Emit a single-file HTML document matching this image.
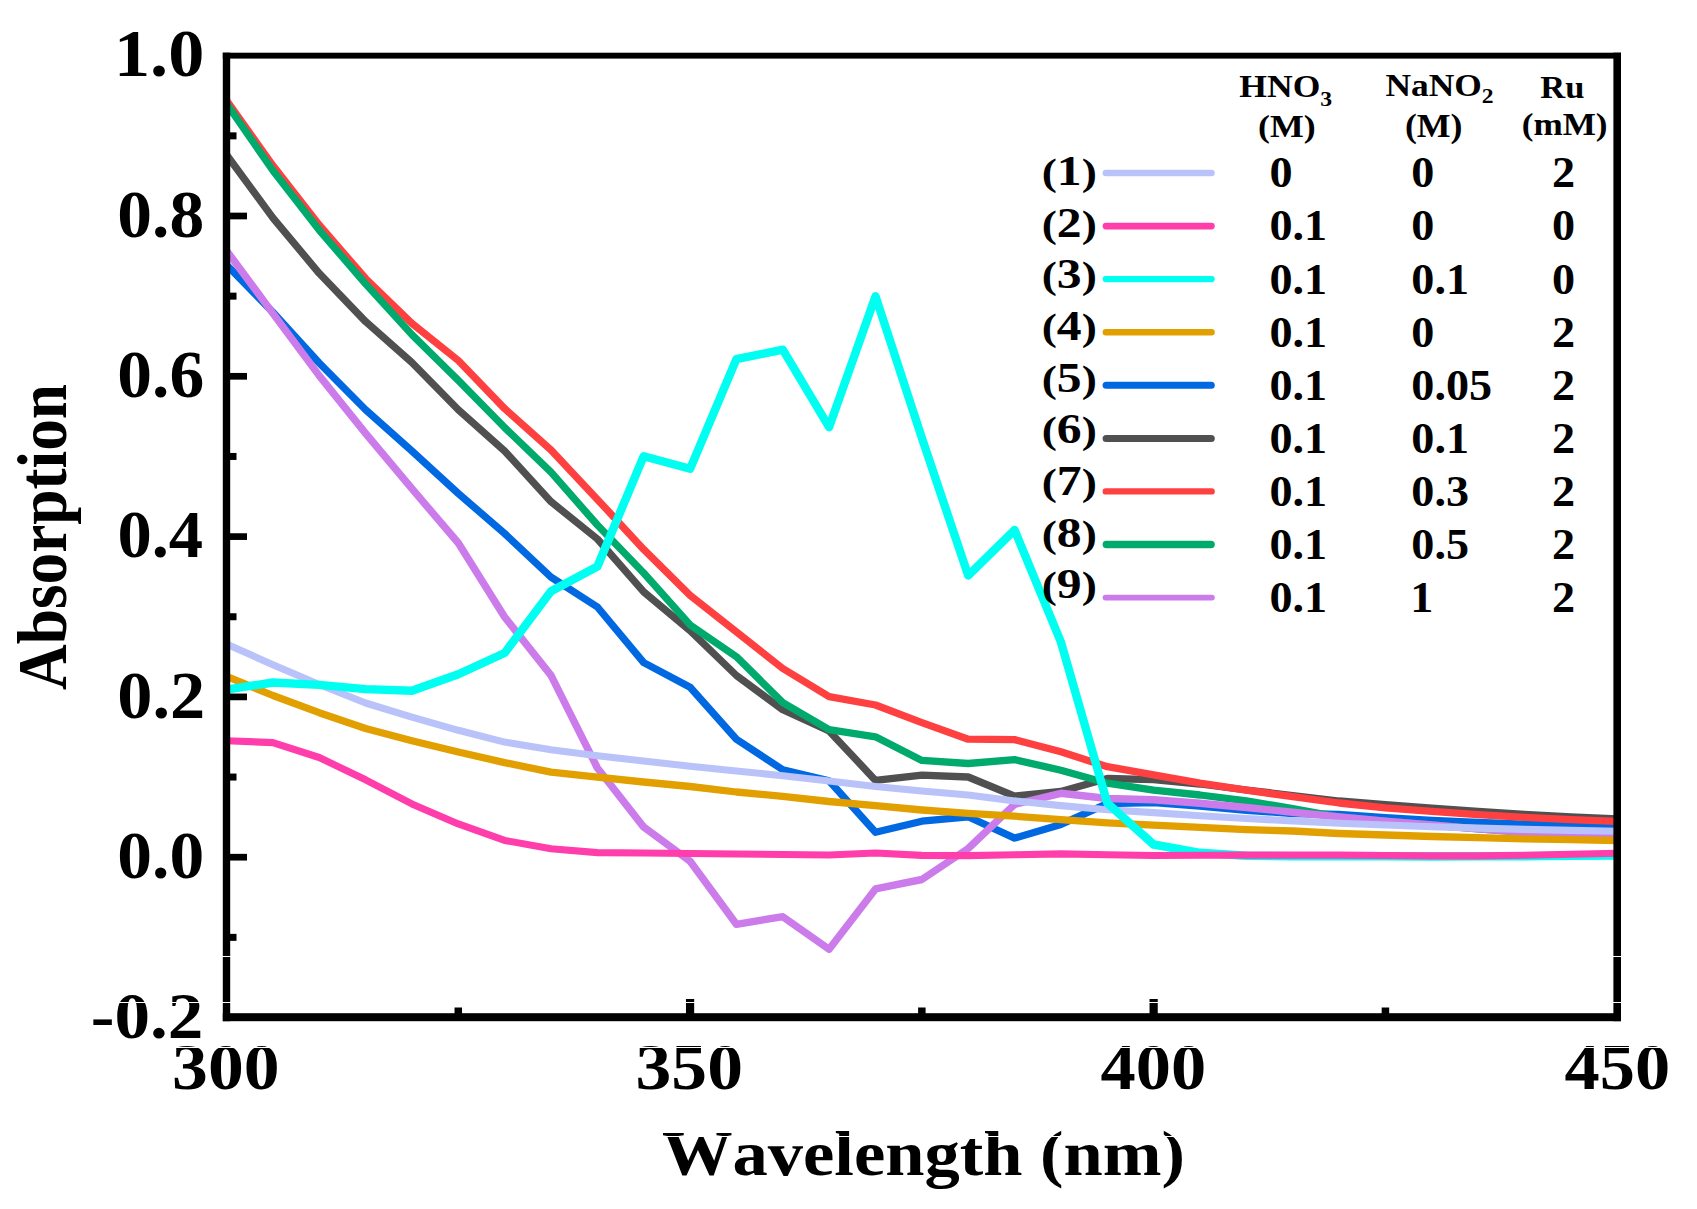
<!DOCTYPE html>
<html lang="en"><head><meta charset="utf-8"><title>Absorption spectra</title>
<style>html,body{margin:0;padding:0;background:#fff}body{width:1697px;height:1209px;overflow:hidden}</style></head>
<body>
<svg width="1697" height="1209" viewBox="0 0 1697 1209" style="display:block">
<rect width="1697" height="1209" fill="#fff"/>
<clipPath id="c"><rect x="226" y="55" width="1391.5" height="962"/></clipPath>
<g clip-path="url(#c)" fill="none" stroke-linejoin="round" stroke-linecap="butt">
<path d="M226.5 264.9 L272.9 312.2 L319.2 363.0 L365.6 409.8 L411.9 451.0 L458.3 493.5 L504.6 533.5 L551.0 577.1 L597.4 607.0 L643.7 662.6 L690.1 687.3 L736.4 739.2 L782.8 769.8 L829.1 780.8 L875.5 832.3 L921.9 821.2 L968.2 816.8 L1014.6 838.1 L1060.9 824.4 L1107.3 803.7 L1153.6 802.7 L1200.0 806.0 L1246.4 810.3 L1292.7 813.5 L1339.1 814.3 L1385.4 817.7 L1431.8 820.5 L1478.1 822.5 L1524.5 824.1 L1570.9 825.4 L1617.2 826.4" stroke="#0068e1" stroke-width="7.3"/>
<path d="M226.5 154.7 L272.9 217.9 L319.2 273.3 L365.6 321.6 L411.9 362.5 L458.3 409.8 L504.6 451.0 L551.0 501.7 L597.4 539.0 L643.7 591.9 L690.1 630.7 L736.4 675.5 L782.8 709.7 L829.1 730.9 L875.5 780.4 L921.9 775.2 L968.2 777.0 L1014.6 796.1 L1060.9 791.4 L1107.3 778.5 L1153.6 779.6 L1200.0 784.0 L1246.4 790.0 L1292.7 795.5 L1339.1 801.0 L1385.4 804.7 L1431.8 808.1 L1478.1 811.4 L1524.5 814.3 L1570.9 817.0 L1617.2 818.8" stroke="#505050" stroke-width="7.3"/>
<path d="M226.5 100.3 L272.9 165.5 L319.2 225.0 L365.6 278.5 L411.9 323.3 L458.3 360.5 L504.6 408.6 L551.0 449.9 L597.4 499.4 L643.7 549.4 L690.1 595.4 L736.4 631.9 L782.8 668.5 L829.1 696.7 L875.5 705.0 L921.9 722.7 L968.2 739.2 L1014.6 739.6 L1060.9 751.8 L1107.3 766.7 L1153.6 774.9 L1200.0 783.2 L1246.4 790.2 L1292.7 796.6 L1339.1 803.0 L1385.4 807.8 L1431.8 811.4 L1478.1 814.6 L1524.5 817.4 L1570.9 819.6 L1617.2 821.3" stroke="#ff4040" stroke-width="7.3"/>
<path d="M226.5 103.6 L272.9 170.5 L319.2 230.1 L365.6 283.9 L411.9 334.6 L458.3 380.3 L504.6 427.5 L551.0 472.2 L597.4 525.0 L643.7 573.0 L690.1 624.9 L736.4 656.7 L782.8 702.6 L829.1 729.7 L875.5 736.8 L921.9 760.4 L968.2 763.5 L1014.6 759.6 L1060.9 770.2 L1107.3 783.2 L1153.6 790.2 L1200.0 795.0 L1246.4 800.9 L1292.7 808.6 L1339.1 817.0 L1385.4 821.2 L1431.8 825.0 L1478.1 828.9 L1524.5 832.4 L1570.9 834.3 L1617.2 835.6" stroke="#00aa6c" stroke-width="7.3"/>
<path d="M226.5 250.6 L272.9 313.4 L319.2 375.6 L365.6 433.4 L411.9 488.7 L458.3 543.0 L504.6 617.0 L551.0 675.4 L597.4 768.0 L643.7 827.1 L690.1 861.3 L736.4 924.3 L782.8 916.7 L829.1 949.2 L875.5 888.9 L921.9 879.5 L968.2 848.5 L1014.6 804.4 L1060.9 793.3 L1107.3 798.5 L1153.6 799.7 L1200.0 803.2 L1246.4 807.5 L1292.7 812.2 L1339.1 817.0 L1385.4 821.2 L1431.8 825.0 L1478.1 828.9 L1524.5 832.4 L1570.9 834.3 L1617.2 835.6" stroke="#cb7cea" stroke-width="7.4"/>
<path d="M226.5 644.0 L272.9 664.8 L319.2 684.4 L365.6 703.0 L411.9 717.1 L458.3 730.3 L504.6 742.1 L551.0 749.7 L597.4 755.7 L643.7 761.0 L690.1 766.3 L736.4 771.0 L782.8 775.7 L829.1 781.0 L875.5 786.5 L921.9 791.0 L968.2 795.0 L1014.6 800.9 L1060.9 805.6 L1107.3 809.8 L1153.6 812.6 L1200.0 815.7 L1246.4 818.5 L1292.7 820.9 L1339.1 823.2 L1385.4 825.0 L1431.8 826.7 L1478.1 828.1 L1524.5 829.4 L1570.9 830.4 L1617.2 831.2" stroke="#b9c3fa" stroke-width="7.1"/>
<path d="M226.5 676.3 L272.9 695.5 L319.2 712.7 L365.6 728.5 L411.9 740.7 L458.3 752.0 L504.6 762.6 L551.0 772.1 L597.4 777.2 L643.7 782.0 L690.1 786.5 L736.4 792.0 L782.8 796.3 L829.1 801.5 L875.5 805.6 L921.9 810.0 L968.2 813.4 L1014.6 816.2 L1060.9 819.7 L1107.3 822.8 L1153.6 825.1 L1200.0 827.3 L1246.4 829.6 L1292.7 831.0 L1339.1 833.5 L1385.4 835.0 L1431.8 836.5 L1478.1 837.7 L1524.5 838.8 L1570.9 839.7 L1617.2 840.5" stroke="#e19f00" stroke-width="7.3"/>
<path d="M226.5 689.7 L272.9 682.5 L319.2 684.9 L365.6 689.1 L411.9 690.7 L458.3 674.2 L504.6 653.0 L551.0 591.3 L597.4 566.5 L643.7 456.2 L690.1 468.8 L736.4 359.1 L782.8 349.7 L829.1 427.2 L875.5 296.3 L921.9 438.0 L968.2 575.5 L1014.6 530.0 L1060.9 642.0 L1107.3 803.2 L1153.6 844.5 L1200.0 852.8 L1246.4 855.8 L1292.7 856.2 L1339.1 856.3 L1385.4 856.4 L1431.8 856.5 L1478.1 856.4 L1524.5 856.2 L1570.9 855.8 L1617.2 855.5" stroke="#00fff0" stroke-width="8.4"/>
<path d="M226.5 740.7 L272.9 742.6 L319.2 757.5 L365.6 779.8 L411.9 803.9 L458.3 823.9 L504.6 840.4 L551.0 848.7 L597.4 852.6 L643.7 853.0 L690.1 853.5 L736.4 854.0 L782.8 854.5 L829.1 855.0 L875.5 853.0 L921.9 855.4 L968.2 855.6 L1014.6 854.7 L1060.9 853.9 L1107.3 854.7 L1153.6 855.5 L1200.0 855.3 L1246.4 855.1 L1292.7 855.1 L1339.1 855.1 L1385.4 855.5 L1431.8 855.9 L1478.1 855.9 L1524.5 855.3 L1570.9 854.3 L1617.2 853.3" stroke="#ff3dab" stroke-width="7.1"/>
</g>
<g fill="#000">
<rect x="222.8" y="52.7" width="7.4" height="968.5"/>
<rect x="1613.4" y="52.7" width="7.6" height="968.5"/>
<rect x="222.8" y="52.7" width="1398.2" height="5.9"/>
<rect x="222.8" y="1013.2" width="1398.2" height="8"/>
<rect x="229" y="212.65" width="18" height="6.7"/>
<rect x="229" y="372.95" width="18" height="6.7"/>
<rect x="229" y="533.25" width="18" height="6.7"/>
<rect x="229" y="693.55" width="18" height="6.7"/>
<rect x="229" y="853.85" width="18" height="6.7"/>
<rect x="229" y="132.35" width="7.5" height="7"/>
<rect x="229" y="292.65" width="7.5" height="7"/>
<rect x="229" y="452.95" width="7.5" height="7"/>
<rect x="229" y="613.25" width="7.5" height="7"/>
<rect x="229" y="773.55" width="7.5" height="7"/>
<rect x="229" y="933.85" width="7.5" height="7"/>
<rect x="685.97" y="999" width="8.2" height="15"/>
<rect x="1149.54" y="999" width="8.2" height="15"/>
<rect x="454.53" y="1007.5" width="7.5" height="7"/>
<rect x="918.10" y="1007.5" width="7.5" height="7"/>
<rect x="1381.67" y="1007.5" width="7.5" height="7"/>
</g>
<g fill="none" stroke-linecap="round">
<line x1="1105.8" y1="173.0" x2="1211.5" y2="173.0" stroke="#b9c3fa" stroke-width="6.5"/>
<line x1="1106.0" y1="226.1" x2="1211.4" y2="226.1" stroke="#ff3dab" stroke-width="6.8"/>
<line x1="1105.7" y1="279.1" x2="1211.7" y2="279.1" stroke="#00fff0" stroke-width="6.2"/>
<line x1="1105.9" y1="332.2" x2="1211.5" y2="332.2" stroke="#e19f00" stroke-width="6.6"/>
<line x1="1106.1" y1="385.3" x2="1211.3" y2="385.3" stroke="#0068e1" stroke-width="7"/>
<line x1="1106.1" y1="438.4" x2="1211.3" y2="438.4" stroke="#505050" stroke-width="7"/>
<line x1="1105.8" y1="491.4" x2="1211.6" y2="491.4" stroke="#ff4040" stroke-width="6.4"/>
<line x1="1106.3" y1="544.5" x2="1211.1" y2="544.5" stroke="#00aa6c" stroke-width="7.4"/>
<line x1="1105.5" y1="597.6" x2="1211.9" y2="597.6" stroke="#cb7cea" stroke-width="5.8"/>
</g>
<g font-family="'Liberation Serif', serif" font-weight="bold" fill="#000" style="font-kerning:none">
<text font-size="65" transform="matrix(1.1122 0 0 1.0302 113.94 76.30)">1.0</text>
<text font-size="65" transform="matrix(1.0688 0 0 1.0302 117.36 236.60)">0.8</text>
<text font-size="65" transform="matrix(1.0688 0 0 1.0302 117.36 396.90)">0.6</text>
<text font-size="65" transform="matrix(1.0551 0 0 1.0302 117.39 557.20)">0.4</text>
<text font-size="65" transform="matrix(1.0829 0 0 1.0302 117.33 717.50)">0.2</text>
<text font-size="65" transform="matrix(1.0688 0 0 1.0302 117.36 877.80)">0.0</text>
<text font-size="65" transform="matrix(1.0949 0 0 1.0070 90.81 1038.30)">-0.2</text>
<text font-size="65" transform="matrix(1.1022 0 0 1.0070 172.10 1089.30)">300</text>
<text font-size="65" transform="matrix(1.1022 0 0 1.0070 635.50 1089.30)">350</text>
<text font-size="65" transform="matrix(1.0840 0 0 1.0070 1100.52 1089.30)">400</text>
<text font-size="65" transform="matrix(1.0830 0 0 1.0070 1564.62 1089.30)">450</text>
<text font-size="30" transform="matrix(1.1855 0 0 1.0321 1239.31 97.31)">HNO<tspan font-size="20" dy="8.7">3</tspan></text>
<text font-size="30" transform="matrix(1.1800 0 0 1.0577 1385.42 96.00)">NaNO<tspan font-size="20" dy="6.7">2</tspan></text>
<text font-size="30" transform="matrix(1.1486 0 0 1.0421 1540.35 97.50)">Ru</text>
<text font-size="30" transform="matrix(1.1935 0 0 1.0538 1258.01 136.88)">(M)</text>
<text font-size="30" transform="matrix(1.1935 0 0 1.0885 1404.91 136.67)">(M)</text>
<text font-size="30" transform="matrix(1.1718 0 0 1.0808 1521.73 134.92)">(mM)</text>
<text font-size="42.5" transform="matrix(1.1674 0 0 0.9833 1041.67 184.83)"><tspan font-size="39">(</tspan>1<tspan font-size="39">)</tspan></text>
<text font-size="42.5" transform="matrix(1.1674 0 0 0.9833 1041.67 236.53)"><tspan font-size="39">(</tspan>2<tspan font-size="39">)</tspan></text>
<text font-size="42.5" transform="matrix(1.1674 0 0 0.9833 1041.67 288.23)"><tspan font-size="39">(</tspan>3<tspan font-size="39">)</tspan></text>
<text font-size="42.5" transform="matrix(1.1674 0 0 0.9833 1041.67 339.93)"><tspan font-size="39">(</tspan>4<tspan font-size="39">)</tspan></text>
<text font-size="42.5" transform="matrix(1.1674 0 0 0.9833 1041.67 391.63)"><tspan font-size="39">(</tspan>5<tspan font-size="39">)</tspan></text>
<text font-size="42.5" transform="matrix(1.1674 0 0 0.9833 1041.67 443.33)"><tspan font-size="39">(</tspan>6<tspan font-size="39">)</tspan></text>
<text font-size="42.5" transform="matrix(1.1674 0 0 0.9833 1041.67 495.03)"><tspan font-size="39">(</tspan>7<tspan font-size="39">)</tspan></text>
<text font-size="42.5" transform="matrix(1.1674 0 0 0.9833 1041.67 546.73)"><tspan font-size="39">(</tspan>8<tspan font-size="39">)</tspan></text>
<text font-size="42.5" transform="matrix(1.1674 0 0 0.9833 1041.67 598.43)"><tspan font-size="39">(</tspan>9<tspan font-size="39">)</tspan></text>
<text font-size="42" transform="matrix(1.1000 0 0 1.0300 1269.40 187.40)">0</text>
<text font-size="42" transform="matrix(1.1000 0 0 1.0300 1411.30 187.40)">0</text>
<text font-size="42" transform="matrix(1.1000 0 0 1.0300 1552.00 187.40)">2</text>
<text font-size="42" transform="matrix(1.1000 0 0 1.0300 1269.40 240.45)">0.1</text>
<text font-size="42" transform="matrix(1.1000 0 0 1.0300 1411.30 240.45)">0</text>
<text font-size="42" transform="matrix(1.1000 0 0 1.0300 1552.00 240.45)">0</text>
<text font-size="42" transform="matrix(1.1000 0 0 1.0300 1269.40 293.50)">0.1</text>
<text font-size="42" transform="matrix(1.1000 0 0 1.0300 1411.30 293.50)">0.1</text>
<text font-size="42" transform="matrix(1.1000 0 0 1.0300 1552.00 293.50)">0</text>
<text font-size="42" transform="matrix(1.1000 0 0 1.0300 1269.40 346.55)">0.1</text>
<text font-size="42" transform="matrix(1.1000 0 0 1.0300 1411.30 346.55)">0</text>
<text font-size="42" transform="matrix(1.1000 0 0 1.0300 1552.00 346.55)">2</text>
<text font-size="42" transform="matrix(1.1000 0 0 1.0300 1269.40 399.60)">0.1</text>
<text font-size="42" transform="matrix(1.1000 0 0 1.0300 1411.30 399.60)">0.05</text>
<text font-size="42" transform="matrix(1.1000 0 0 1.0300 1552.00 399.60)">2</text>
<text font-size="42" transform="matrix(1.1000 0 0 1.0300 1269.40 452.65)">0.1</text>
<text font-size="42" transform="matrix(1.1000 0 0 1.0300 1411.30 452.65)">0.1</text>
<text font-size="42" transform="matrix(1.1000 0 0 1.0300 1552.00 452.65)">2</text>
<text font-size="42" transform="matrix(1.1000 0 0 1.0300 1269.40 505.70)">0.1</text>
<text font-size="42" transform="matrix(1.1000 0 0 1.0300 1411.30 505.70)">0.3</text>
<text font-size="42" transform="matrix(1.1000 0 0 1.0300 1552.00 505.70)">2</text>
<text font-size="42" transform="matrix(1.1000 0 0 1.0300 1269.40 558.75)">0.1</text>
<text font-size="42" transform="matrix(1.1000 0 0 1.0300 1411.30 558.75)">0.5</text>
<text font-size="42" transform="matrix(1.1000 0 0 1.0300 1552.00 558.75)">2</text>
<text font-size="42" transform="matrix(1.1000 0 0 1.0300 1269.40 611.80)">0.1</text>
<text font-size="42" transform="matrix(1.1000 0 0 1.0300 1410.20 611.80)">1</text>
<text font-size="42" transform="matrix(1.1000 0 0 1.0300 1552.00 611.80)">2</text>
<text font-size="64" transform="matrix(1.1021 0 0 0.9850 662.00 1175.00)">Wavelength (nm)</text>
<text font-size="65" transform="matrix(0 -0.9737 1.0700 0 65.80 689.97)">Absorption</text>
</g>
<rect x="0" y="956" width="1697" height="1" fill="#fff"/><rect x="0" y="1002" width="1697" height="1" fill="#fff"/><rect x="0" y="1047" width="1697" height="1" fill="#fff"/><rect x="0" y="1136" width="1697" height="1" fill="#fff"/>
</svg>
</body></html>
